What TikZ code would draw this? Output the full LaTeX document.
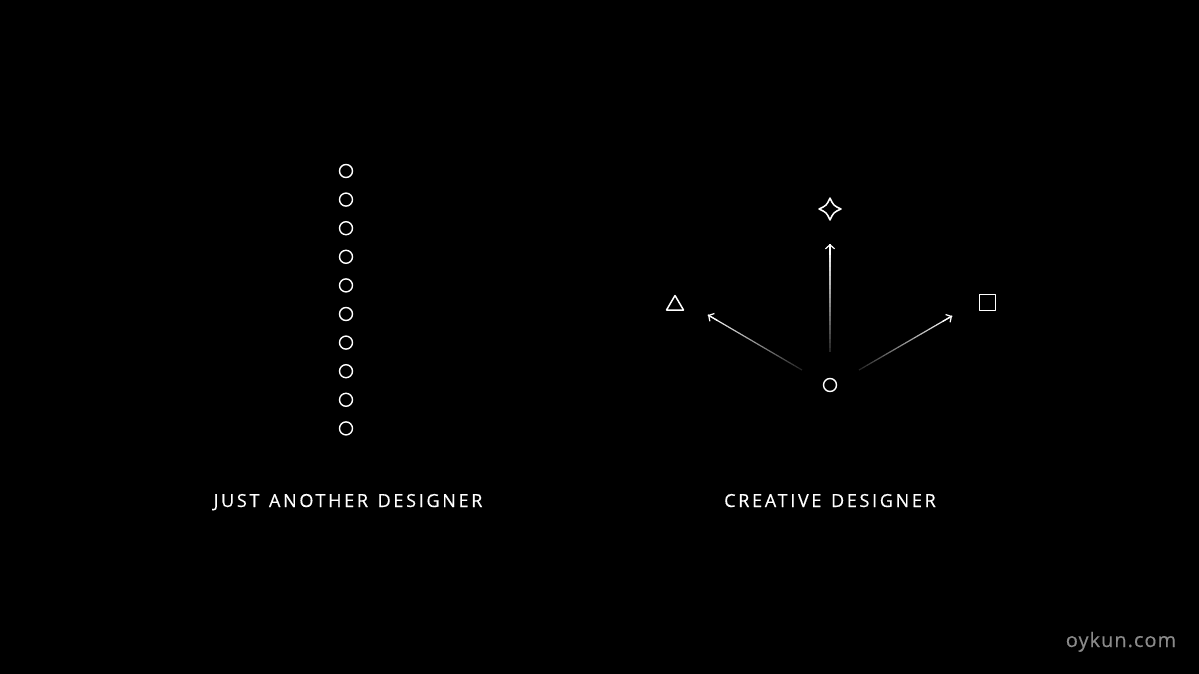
\documentclass[tikz,border=0pt]{standalone}
\usepackage{fontspec}
\setmainfont{Open Sans}
\newfontfamily\labelfont[LetterSpace=15,FakeBold=0.4,WordSpace=1.3]{Open Sans}
\newfontfamily\wmfont[LetterSpace=5,FakeBold=0.3]{Open Sans}
\usetikzlibrary{calc,arrows.meta}
\definecolor{wm}{HTML}{8A8A8A}
\tikzset{
  dot/.style={circle,draw=white,line width=1.4pt,minimum size=13pt,inner sep=0pt},
  shapeline/.style={draw=white,line width=1.5pt,line join=round},
  lbl/.style={text=white,font=\labelfont\fontsize{18}{20}\selectfont,inner sep=0pt,anchor=base},
  tipline/.style={draw=white,line width=1.2pt,-{Straight Barb[length=4pt,width=9pt,line width=1.2pt]}},
}
\newcommand{\fadearrow}[2]{%
  \foreach \k in {0,...,23}{%
    \pgfmathsetmacro{\ta}{\k/24}%
    \pgfmathsetmacro{\tb}{(\k+1.05)/24}%
    \pgfmathsetmacro{\pc}{15+85*\k/23}%
    \draw[draw=white!\pc!black,line width=1.2pt] ($(#1)!\ta!(#2)$) -- ($(#1)!\tb!(#2)$);
  }%
  \draw[tipline] ($(#1)!0.9!(#2)$) -- (#2);
}
\begin{document}
\begin{tikzpicture}[x=1pt,y=-1pt]
\fill[black] (0,0) rectangle (1199,674);
\useasboundingbox (0,0) rectangle (1199,674);
% left column
\foreach \i in {0,...,9}{
  \node[dot] (d\i) at (346,{171+\i*28.6}) {};
}
\node[lbl] (t1) at (348,507) {JUST ANOTHER DESIGNER};
% right
\node[dot] (c) at (830,385) {};
% star
\coordinate (s) at (830,209);
\draw[shapeline] (830,198) .. controls (833.5,205.5) .. (841,209)
  .. controls (833.5,212.5) .. (830,220)
  .. controls (826.5,212.5) .. (819,209)
  .. controls (826.5,205.5) .. cycle;
% triangle
\coordinate (tri) at (675,304);
\draw[shapeline] (675,295.5) -- (683.5,310) -- (666.5,310) -- cycle;
% square
\coordinate (sq) at (987,302);
\draw[shapeline] (979.5,294.5) rectangle (995.5,310.5);
% arrows
\coordinate (a1s) at (802,370); \coordinate (a1e) at (708,315);
\coordinate (a2s) at (830,352); \coordinate (a2e) at (830,244);
\coordinate (a3s) at (859,370); \coordinate (a3e) at (952,316);
\fadearrow{a1s}{a1e}
\fadearrow{a2s}{a2e}
\fadearrow{a3s}{a3e}
\node[lbl] (t2) at (830,507) {CREATIVE DESIGNER};
\node[text=wm,font=\wmfont\fontsize{20}{22}\selectfont,inner sep=0pt,anchor=base] (wmk) at (1121,647) {oykun.com};
\end{tikzpicture}
\end{document}
